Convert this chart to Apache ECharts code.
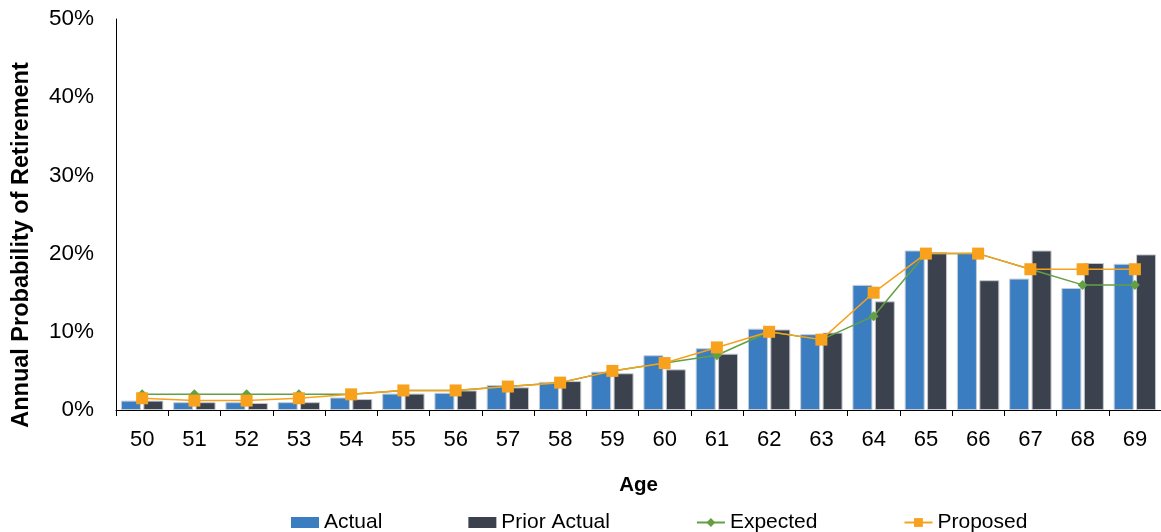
<!DOCTYPE html>
<html>
<head>
<meta charset="utf-8">
<script src="https://cdn.jsdelivr.net/npm/echarts@6/dist/echarts.min.js"></script>
<style>
html,body{margin:0;padding:0;background:#fff;}
#chart{width:1161px;height:532px;}
</style>
</head>
<body>
<div id="chart"></div>
<script>
var ages = ['50','51','52','53','54','55','56','57','58','59','60','61','62','63','64','65','66','67','68','69'];
var actual = [1.2, 1.0, 1.0, 1.0, 1.6, 2.1, 2.2, 3.2, 3.6, 4.9, 7.0, 7.9, 10.4, 9.7, 16.0, 20.4, 20.1, 16.8, 15.6, 18.7];
var priorActual = [1.2, 1.0, 0.9, 1.0, 1.4, 2.1, 2.5, 2.9, 3.7, 4.7, 5.2, 7.2, 10.3, 9.9, 13.9, 20.2, 16.6, 20.4, 18.8, 19.9];
var expected = [2, 2, 2, 2, 2, 2.5, 2.5, 3, 3.5, 5, 6, 7, 10, 9, 12, 20, 20, 18, 16, 16];
var proposed = [1.5, 1.2, 1.2, 1.5, 2, 2.5, 2.5, 3, 3.5, 5, 6, 8, 10, 9, 15, 20, 20, 18, 18, 18];
var yTicks = [0, 10, 20, 30, 40, 50];

var FONT = 'Liberation Sans, Arial, sans-serif';
var chart = echarts.init(document.getElementById('chart'), null, {renderer: 'canvas'});
chart.setOption({
  animation: false,
  backgroundColor: '#ffffff',
  textStyle: {fontFamily: FONT, color: '#000'},
  grid: {left: 116, top: 19, width: 1049, height: 391, containLabel: false},
  legend: {
    left: 286, top: 507,
    itemWidth: 28, itemHeight: 11, itemGap: 86,
    itemStyle: {borderWidth: 0},
    textStyle: {fontFamily: FONT, fontSize: 21, color: '#000'},
    data: [
      {name: 'Actual', icon: 'rect'},
      {name: 'Prior Actual', icon: 'rect'},
      'Expected',
      'Proposed'
    ]
  },
  graphic: [{
    type: 'text',
    x: 22, y: 245,
    rotation: Math.PI / 2,
    style: {
      text: 'Annual Probability of Retirement',
      font: 'bold 23.5px ' + FONT,
      fill: '#000',
      align: 'center',
      verticalAlign: 'middle'
    }
  }],
  xAxis: {
    type: 'category',
    data: ages,
    boundaryGap: true,
    name: 'Age',
    nameLocation: 'middle',
    nameGap: 65,
    nameTextStyle: {fontFamily: FONT, fontSize: 20.5, fontWeight: 'bold', color: '#000'},
    axisLine: {show: true, lineStyle: {color: '#000', width: 1}},
    axisTick: {show: true, length: 6, alignWithLabel: false, lineStyle: {color: '#000'}},
    axisLabel: {fontFamily: FONT, fontSize: 22, color: '#000', margin: 19, interval: 0},
    splitLine: {show: false}
  },
  yAxis: {
    type: 'value',
    min: yTicks[0], max: yTicks[yTicks.length - 1], interval: 10,
    axisLine: {show: true, lineStyle: {color: '#000', width: 1}},
    axisTick: {show: false},
    axisLabel: {fontFamily: FONT, fontSize: 22.5, color: '#000', margin: 22, formatter: '{value}%'},
    splitLine: {show: false}
  },
  series: [
    {
      name: 'Actual', type: 'bar', data: actual,
      barWidth: 20, barGap: '12%',
      itemStyle: {color: '#3a7dc1', borderColor: '#c5ccd4', borderWidth: 1}
    },
    {
      name: 'Prior Actual', type: 'bar', data: priorActual,
      barWidth: 20, barGap: '12%',
      itemStyle: {color: '#3b424d', borderColor: '#c5c8cc', borderWidth: 1}
    },
    {
      name: 'Expected', type: 'line', data: expected,
      symbol: 'diamond', symbolSize: 10, showSymbol: true,
      lineStyle: {color: '#62a043', width: 1.5},
      itemStyle: {color: '#62a043'},
      z: 3
    },
    {
      name: 'Proposed', type: 'line', data: proposed,
      symbol: 'rect', symbolSize: 12, showSymbol: true,
      lineStyle: {color: '#f8a11c', width: 1.5},
      itemStyle: {color: '#f8a11c'},
      z: 4
    }
  ]
});
</script>
</body>
</html>
